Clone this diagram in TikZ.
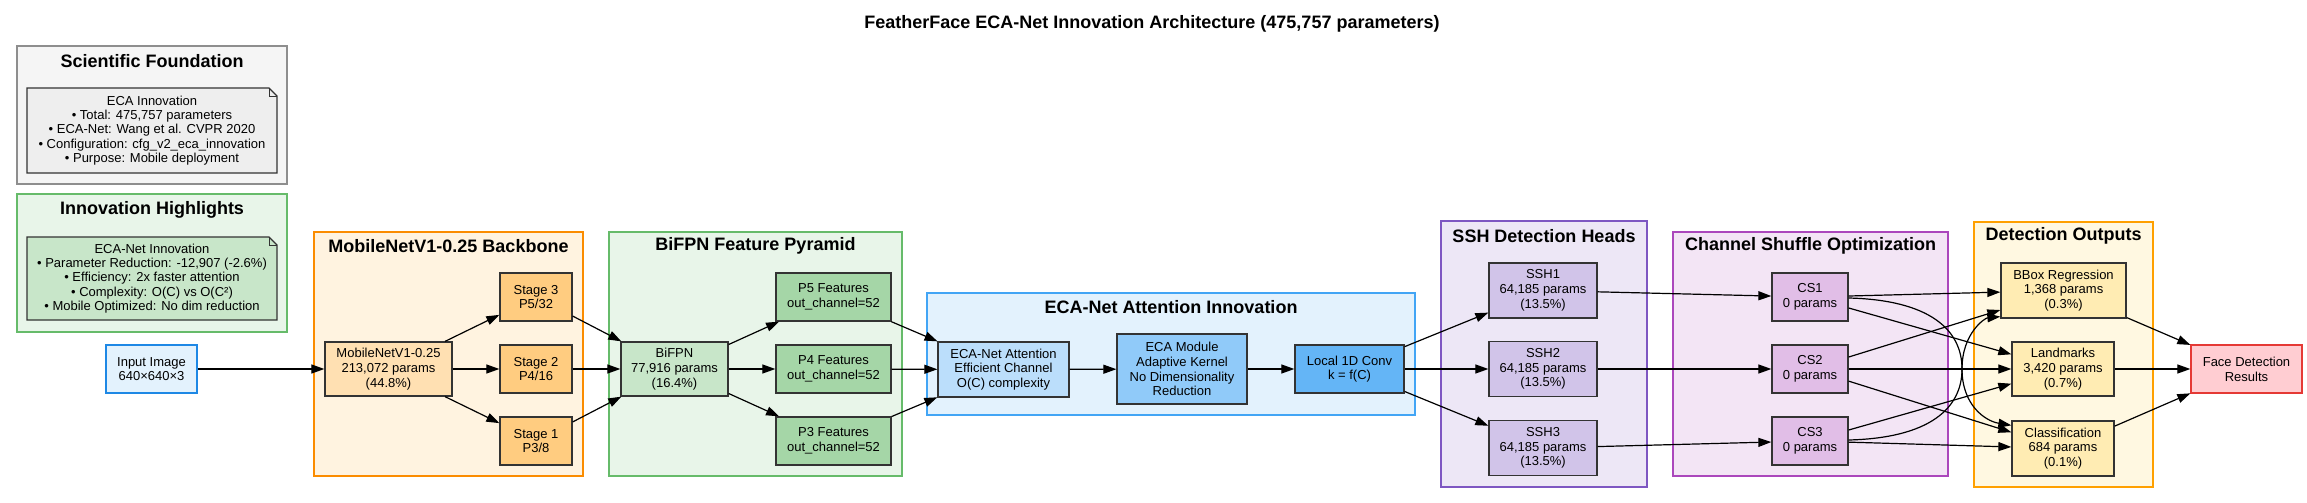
\documentclass[tikz,border=0pt]{standalone}
\usepackage{fontspec}
\setmainfont{Liberation Sans}
\usetikzlibrary{arrows.meta}
\definecolor{scifill}{HTML}{F5F5F5}
\definecolor{scidraw}{HTML}{8E8E8E}
\definecolor{scinote}{HTML}{EEEEEE}
\definecolor{grnfill}{HTML}{E8F5E9}
\definecolor{grndraw}{HTML}{66BB6A}
\definecolor{grnnode}{HTML}{C8E6C9}
\definecolor{grnnode2}{HTML}{A5D6A7}
\definecolor{orgfill}{HTML}{FFF3E0}
\definecolor{orgdraw}{HTML}{FB8C00}
\definecolor{orgnode}{HTML}{FFE0B2}
\definecolor{orgnode2}{HTML}{FFCC80}
\definecolor{blufill}{HTML}{E3F2FD}
\definecolor{bludraw}{HTML}{42A5F5}
\definecolor{inpdraw}{HTML}{1E88E5}
\definecolor{blunode1}{HTML}{BBDEFB}
\definecolor{blunode2}{HTML}{90CAF9}
\definecolor{blunode3}{HTML}{64B5F6}
\definecolor{purfill}{HTML}{EDE7F6}
\definecolor{purdraw}{HTML}{7E57C2}
\definecolor{purnode}{HTML}{D1C4E9}
\definecolor{magfill}{HTML}{F3E5F5}
\definecolor{magdraw}{HTML}{AB47BC}
\definecolor{magnode}{HTML}{E1BEE7}
\definecolor{ambfill}{HTML}{FFF8E1}
\definecolor{ambdraw}{HTML}{FFA000}
\definecolor{ambnode}{HTML}{FFECB3}
\definecolor{redfill}{HTML}{FFCDD2}
\definecolor{reddraw}{HTML}{E53935}
\begin{document}
\begin{tikzpicture}[x=1pt,y=-1pt,
  box/.style={draw=black!80, line width=1.3pt, inner sep=0pt, align=center,
    font=\fontsize{13}{14.7}\selectfont},
  notetext/.style={inner sep=0pt, align=center, font=\fontsize{13}{14.4}\selectfont},
  clus/.style={line width=1.3pt},
  ctitle/.style={inner sep=0pt, font=\fontsize{18}{20}\selectfont\bfseries},
  arr/.style={-{Triangle[length=13pt,width=9pt]}, line width=1.2pt},
]
\useasboundingbox[fill=white] (0,0) rectangle (2307,503);

% title
\node[inner sep=0pt, anchor=base, font=\fontsize{18}{20}\selectfont\bfseries] (title) at (1152,29)
  {FeatherFace ECA-Net Innovation Architecture (475,757 parameters)};

% clusters
\draw[clus, fill=scifill, draw=scidraw] (17,46) rectangle (287,184);
\node[ctitle] (tsci) at (152,61) {Scientific Foundation};
\draw[clus, fill=grnfill, draw=grndraw] (17,194) rectangle (287,332);
\node[ctitle] (tinn) at (152,210) {Innovation Highlights};
\draw[clus, fill=orgfill, draw=orgdraw] (314,232) rectangle (583,476);
\node[ctitle] (tmob) at (448.5,246) {MobileNetV1-0.25 Backbone};
\draw[clus, fill=grnfill, draw=grndraw] (609,232) rectangle (902,476);
\node[ctitle] (tbif) at (755.5,246) {BiFPN Feature Pyramid};
\draw[clus, fill=blufill, draw=bludraw] (927,293) rectangle (1415,415);
\node[ctitle] (teca) at (1171,307) {ECA-Net Attention Innovation};
\draw[clus, fill=purfill, draw=purdraw] (1441,221) rectangle (1647,487);
\node[ctitle] (tssh) at (1544,236) {SSH Detection Heads};
\draw[clus, fill=magfill, draw=magdraw] (1673,232) rectangle (1948,476);
\node[ctitle] (tcs) at (1810.5,246) {Channel Shuffle Optimization};
\draw[clus, fill=ambfill, draw=ambdraw] (1974,222) rectangle (2153,487);
\node[ctitle] (tout) at (2063.5,236) {Detection Outputs};

% note shapes
\draw[line width=1.3pt, draw=black!80, fill=scinote]
  (27,88) -- (269,88) -- (277,96) -- (277,173) -- (27,173) -- cycle;
\draw[line width=1pt, draw=black!80] (269,88) -- (269,96) -- (277,96);
\node[notetext] (sci) at (152,130.5) {ECA Innovation\\
  • Total: 475,757 parameters\\
  • ECA-Net: Wang et al. CVPR 2020\\
  • Configuration: cfg\_v2\_eca\_innovation\\
  • Purpose: Mobile deployment};
\draw[line width=1.3pt, draw=black!80, fill=grnnode]
  (27,237) -- (269,237) -- (277,245) -- (277,320) -- (27,320) -- cycle;
\draw[line width=1pt, draw=black!80] (269,237) -- (269,245) -- (277,245);
\node[notetext] (inn) at (152,278.5) {ECA-Net Innovation\\
  • Parameter Reduction: -12,907 (-2.6\%)\\
  • Efficiency: 2x faster attention\\
  • Complexity: O(C) vs O(C²)\\
  • Mobile Optimized: No dim reduction};

% nodes
\node[box, fill=blufill, draw=inpdraw, minimum width=91pt, minimum height=48pt] (inp) at (151.5,369)
  {Input Image\\640×640×3};
\node[box, fill=orgnode, minimum width=127pt, minimum height=54pt] (mob) at (388.5,369)
  {MobileNetV1-0.25\\213,072 params\\(44.8\%)};
\node[box, fill=orgnode2, minimum width=72pt, minimum height=48pt] (st3) at (536,297) {Stage 3\\P5/32};
\node[box, fill=orgnode2, minimum width=72pt, minimum height=48pt] (st2) at (536,369) {Stage 2\\P4/16};
\node[box, fill=orgnode2, minimum width=72pt, minimum height=48pt] (st1) at (536,441) {Stage 1\\P3/8};

\node[box, fill=grnnode, minimum width=107pt, minimum height=54pt] (bif) at (674.5,369)
  {BiFPN\\77,916 params\\(16.4\%)};
\node[box, fill=grnnode2, minimum width=115pt, minimum height=48pt] (p5) at (833.5,297) {P5 Features\\out\_channel=52};
\node[box, fill=grnnode2, minimum width=115pt, minimum height=48pt] (p4) at (833.5,369) {P4 Features\\out\_channel=52};
\node[box, fill=grnnode2, minimum width=115pt, minimum height=48pt] (p3) at (833.5,441) {P3 Features\\out\_channel=52};

\node[box, fill=blunode1, minimum width=131pt, minimum height=55pt] (eatt) at (1003.5,369.5)
  {ECA-Net Attention\\Efficient Channel\\O(C) complexity};
\node[box, fill=blunode2, minimum width=130pt, minimum height=70pt] (emod) at (1182,369)
  {ECA Module\\Adaptive Kernel\\No Dimensionality\\Reduction};
\node[box, fill=blunode3, minimum width=109pt, minimum height=48pt] (conv) at (1349.5,369)
  {Local 1D Conv\\k = f(C)};

\node[box, fill=purnode, minimum width=108pt, minimum height=55pt] (ssh1) at (1543,290.5) {SSH1\\64,185 params\\(13.5\%)};
\node[box, fill=purnode, minimum width=108pt, minimum height=55pt] (ssh2) at (1543,369) {SSH2\\64,185 params\\(13.5\%)};
\node[box, fill=purnode, minimum width=108pt, minimum height=55pt] (ssh3) at (1543,448) {SSH3\\64,185 params\\(13.5\%)};

\node[box, fill=magnode, minimum width=76pt, minimum height=48pt] (cs1) at (1810,297) {CS1\\0 params};
\node[box, fill=magnode, minimum width=76pt, minimum height=48pt] (cs2) at (1810,369) {CS2\\0 params};
\node[box, fill=magnode, minimum width=76pt, minimum height=48pt] (cs3) at (1810,441) {CS3\\0 params};

\node[box, fill=ambnode, minimum width=125pt, minimum height=55pt] (bbox) at (2063.5,290.5) {BBox Regression\\1,368 params\\(0.3\%)};
\node[box, fill=ambnode, minimum width=102pt, minimum height=54pt] (land) at (2063,369) {Landmarks\\3,420 params\\(0.7\%)};
\node[box, fill=ambnode, minimum width=102pt, minimum height=55pt] (cls) at (2063,448.5) {Classification\\684 params\\(0.1\%)};

\node[box, fill=redfill, draw=reddraw, minimum width=111pt, minimum height=48pt] (face) at (2246.5,369)
  {Face Detection\\Results};

% edges
\draw[arr] (inp) -- (mob);
\draw[arr] (mob) -- (st3);
\draw[arr] (mob) -- (st2);
\draw[arr] (mob) -- (st1);
\draw[arr] (st3) -- (bif);
\draw[arr] (st2) -- (bif);
\draw[arr] (st1) -- (bif);
\draw[arr] (bif) -- (p5);
\draw[arr] (bif) -- (p4);
\draw[arr] (bif) -- (p3);
\draw[arr] (p5) -- (eatt);
\draw[arr] (p4) -- (eatt);
\draw[arr] (p3) -- (eatt);
\draw[arr] (eatt) -- (emod);
\draw[arr] (emod) -- (conv);
\draw[arr] (conv) -- (ssh1);
\draw[arr] (conv) -- (ssh2);
\draw[arr] (conv) -- (ssh3);
\draw[arr] (ssh1) -- (cs1);
\draw[arr] (ssh2) -- (cs2);
\draw[arr] (ssh3) -- (cs3);
\draw[arr] (cs1) -- (bbox);
\draw[arr] (cs1) -- (land);
\draw[arr] ([yshift=-1pt]cs1.east) .. controls (1930,300) and (1962,330) .. (1962,369)
  .. controls (1962,405) and (1985,421) .. ([yshift=-5pt]cls.north west);
\draw[arr] (cs2) -- (bbox);
\draw[arr] (cs2) -- (land);
\draw[arr] (cs2) -- (cls);
\draw[arr] ([yshift=1pt]cs3.east) .. controls (1930,438) and (1962,408) .. (1962,369)
  .. controls (1962,333) and (1985,318) .. ([yshift=2pt]bbox.south west);
\draw[arr] (cs3) -- (land);
\draw[arr] (cs3) -- (cls);
\draw[arr] (bbox) -- (face);
\draw[arr] (land) -- (face);
\draw[arr] (cls) -- (face);
\end{tikzpicture}
\end{document}
